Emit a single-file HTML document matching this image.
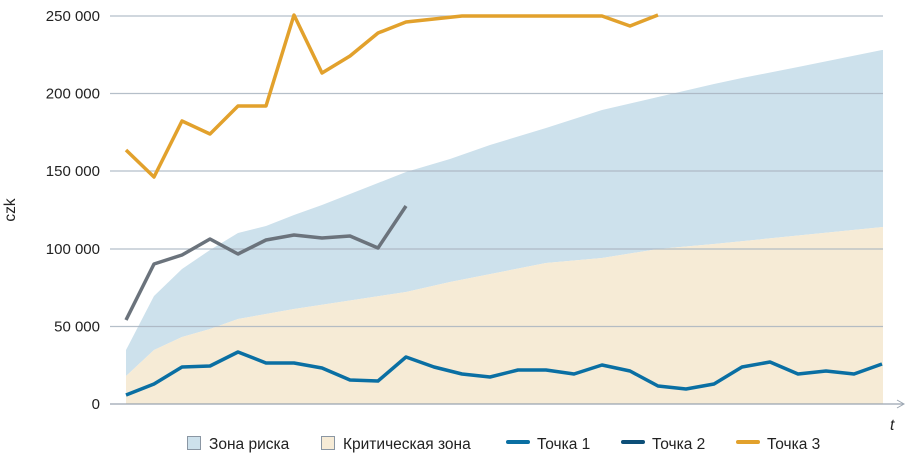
<!DOCTYPE html>
<html><head><meta charset="utf-8"><style>
body{margin:0;background:#fff;}
svg{display:block;font-family:"Liberation Sans","Noto Sans CJK SC",sans-serif;}
</style></head><body>
<svg width="905" height="460" viewBox="0 0 905 460">
<polygon fill="#cde1ec" points="126,350 154,296 182,269 210,250 238,233 266,226 294,215 322,205 350,194 378,183 406,172 450,159 490,145 546,128 602,110 658,97 714,84 742,78 798,67 882,50 883,50 883,227 714,244 658,249 602,258 546,263 450,282 406,292 294,309 238,319 210,329 182,337 154,350 126,376"/>
<polygon fill="#f6ebd6" points="126,376 154,350 182,337 210,329 238,319 294,309 406,292 450,282 546,263 602,258 658,249 714,244 883,227 883,404 126,404"/>
<g stroke="#a9b4c0" stroke-width="1.2" opacity="0.85">
<line x1="110" y1="16" x2="883" y2="16"/><line x1="110" y1="93.5" x2="883" y2="93.5"/><line x1="110" y1="171" x2="883" y2="171"/><line x1="110" y1="249" x2="883" y2="249"/><line x1="110" y1="326.5" x2="883" y2="326.5"/>
</g>
<line x1="110" y1="404" x2="903" y2="404" stroke="#9aa5b1" stroke-width="1.2"/>
<polyline points="897,400 904,404 897,408" fill="none" stroke="#9aa5b1" stroke-width="1"/>
<g font-size="15" fill="#222" text-anchor="end">
<text x="100" y="21">250 000</text><text x="100" y="98.5">200 000</text><text x="100" y="176">150 000</text><text x="100" y="254">100 000</text><text x="100" y="331.5">50 000</text><text x="100" y="409">0</text>
</g>
<text transform="translate(15,210) rotate(-90)" font-size="15.5" fill="#222" text-anchor="middle">czk</text>
<text x="890" y="430" font-size="15.5" font-style="italic" fill="#222">t</text>
<g fill="none" stroke-width="3.5" stroke-linejoin="round">
<polyline stroke="#e2a12c" points="126,150 154,177 182,121 210,134 238,106 266,106 294,15 322,73 350,56 378,33 406,22 434,19 462,16 490,16 518,16 546,16 574,16 602,16 630,26 658,15"/>
<polyline stroke="#6b737c" points="126,320 154,264 182,255 210,239 238,254 266,240 294,235 322,238 350,236 378,248 406,206"/>
<polyline stroke="#0a6fa3" points="126,395 154,384 182,367 210,366 238,352 266,363 294,363 322,368 350,380 378,381 406,357 434,367 462,374 490,377 518,370 546,370 574,374 602,365 630,371 658,386 686,389 714,384 742,367 770,362 798,374 826,371 854,374 882,364"/>
</g>
<g font-size="15.5" fill="#222">
<rect x="187.5" y="436.5" width="13" height="13" fill="#cde1ec" stroke="#8a96a3"/>
<text x="209" y="449">Зона риска</text>
<rect x="321.5" y="436.5" width="13" height="13" fill="#f6ebd6" stroke="#8a96a3"/>
<text x="343" y="449">Критическая зона</text>
<line x1="508" y1="442" x2="528" y2="442" stroke="#0a6fa3" stroke-width="4" stroke-linecap="round"/>
<text x="537" y="449">Точка 1</text>
<line x1="623" y1="442" x2="643" y2="442" stroke="#0d4f78" stroke-width="4" stroke-linecap="round"/>
<text x="652" y="449">Точка 2</text>
<line x1="738" y1="442" x2="758" y2="442" stroke="#e2a12c" stroke-width="4" stroke-linecap="round"/>
<text x="767" y="449">Точка 3</text>
</g>
</svg>
</body></html>
